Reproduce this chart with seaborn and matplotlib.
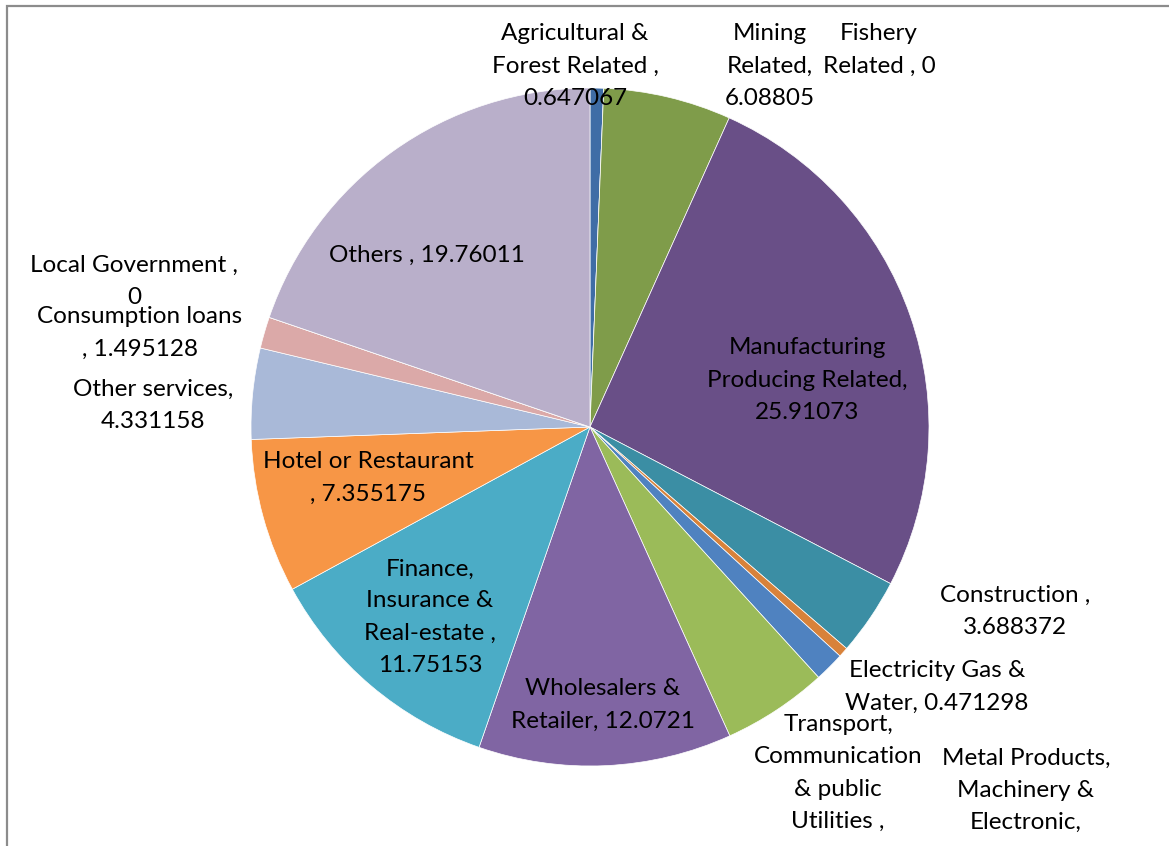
import matplotlib
matplotlib.use("Agg")
import matplotlib.pyplot as plt
import seaborn as sns

# Loan balance share by industry (percent)
sectors = [
    "Agricultural & Forest Related",
    "Fishery Related",
    "Mining Related",
    "Manufacturing Producing Related",
    "Construction",
    "Electricity Gas & Water",
    "Metal Products, Machinery & Electronic",
    "Transport, Communication & public Utilities",
    "Wholesalers & Retailer",
    "Finance, Insurance & Real-estate",
    "Hotel or Restaurant",
    "Other services",
    "Consumption loans",
    "Local Government",
    "Others",
]
shares = [
    0.647067, 0.0, 6.08805, 25.91073, 3.688372, 0.471298, 1.42, 5.01,
    12.0721, 11.75153, 7.355175, 4.331158, 1.495128, 0.0, 19.76011,
]
# Wrapped label text (name part); the value is appended when drawn
label_names = [
    "Agricultural &\nForest Related ,\n",
    "Fishery\nRelated , ",
    "Mining\nRelated,\n",
    "Manufacturing\nProducing Related,\n",
    "Construction ,\n",
    "Electricity Gas &\nWater, ",
    "Metal Products,\nMachinery &\nElectronic,",
    "Transport,\nCommunication\n& public\nUtilities ,",
    "Wholesalers &\nRetailer, ",
    "Finance,\nInsurance &\nReal-estate ,\n",
    "Hotel or Restaurant\n, ",
    "Other services,\n",
    "Consumption loans\n, ",
    "Local Government ,\n",
    "Others , ",
]
# labels whose value line falls below the chart area
show_value = [True] * 6 + [False, False] + [True] * 7

palette = [
    "#3F6DA6", "#A8423F", "#7F9C4A", "#694F87", "#3B8EA4", "#D8823A",
    "#4F82C0", "#9BBB59", "#8065A3", "#4BACC6", "#F79646", "#A9B9D8",
    "#DBA9A8", "#C3D69B", "#B9AFCA",
]

W, H = 1169, 846
sns.set_theme(style="white")
plt.rcParams["font.family"] = ["Lato", "DejaVu Sans"]

fig = plt.figure(figsize=(W / 100, H / 100), dpi=100)
ax = fig.add_axes([0, 0, 1, 1])

cx, cy, r = 590, H - 427, 339
ax.pie(
    shares,
    colors=palette,
    startangle=90,
    counterclock=False,
    center=(cx, cy),
    radius=r,
    wedgeprops=dict(edgecolor="white", linewidth=0.5),
)
ax.set_xlim(0, W)
ax.set_ylim(0, H)
ax.set_aspect("equal")
ax.axis("off")

# label block centres, in pixels from the top-left corner
label_pos = [
    (575, 66), (879, 50), (770, 66), (807, 380), (1015, 611), (937, 687),
    (1026, 790), (838, 773), (603, 705), (430, 617), (368, 478),
    (153, 405), (140, 333), (134, 281), (427, 255),
]

for name, val, shown, (px, py) in zip(label_names, shares, show_value, label_pos):
    txt = f"{name}{val:.10g}" if shown else name
    ax.text(px, H - py, txt, ha="center", va="center",
            fontsize=17.5, color="black", linespacing=1.65)

# chart frame (left and top edges visible)
ax.plot([7, 7, W + 5], [-5, H - 6, H - 6], color="#8C8C8C", lw=1.6,
        clip_on=False, solid_joinstyle="miter")

fig.savefig("out.png", dpi=100)
